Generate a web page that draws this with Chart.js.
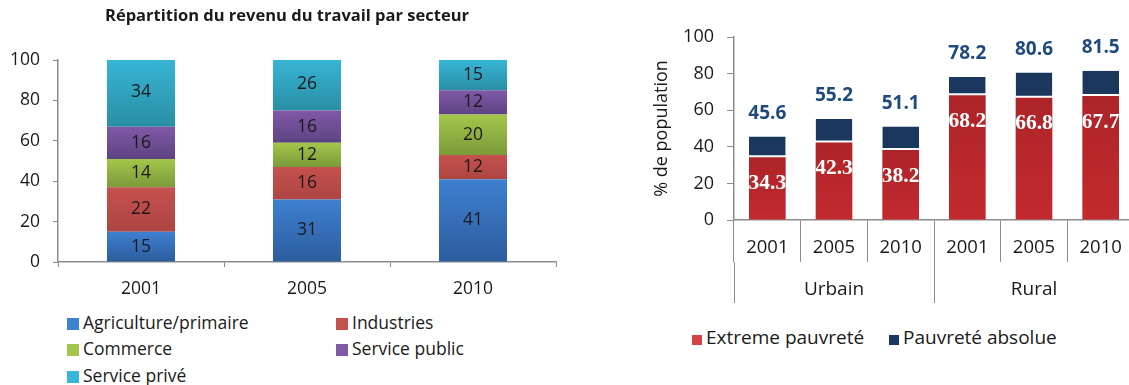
<!DOCTYPE html>
<html>
<head>
<meta charset="utf-8">
<script src="https://cdn.jsdelivr.net/npm/chart.js@4/dist/chart.umd.min.js"></script>
<style>
  html, body { margin: 0; padding: 0; background: #fff; }
  body { width: 1129px; height: 385px; overflow: hidden; position: relative; font-family: "Open Sans", sans-serif; color: #1a1a1a; }
  #revenu { position: absolute; left: 0; top: 0; }
  #pauvrete { position: absolute; left: 630px; top: 0; }
  .legend .item { position: absolute; white-space: nowrap; line-height: 22px; }
  .legend .box { display: inline-block; vertical-align: -1px; margin-right: 4px; }
  #legendRevenu { font-size: 17.5px; }
  #legendPauvrete { font-size: 19px; }
</style>
</head>
<body>
<canvas id="revenu" width="574" height="300"></canvas>
<canvas id="pauvrete" width="510" height="310"></canvas>
<div id="legendRevenu" class="legend"></div>
<div id="legendPauvrete" class="legend"></div>
<script>
"use strict";

// --- revenu du travail par secteur (%)
const years = ["2001", "2005", "2010"];
const sectors = ["Agriculture/primaire", "Industries", "Commerce", "Service public", "Service privé"];
const agriculture = [15, 31, 41];
const industries = [22, 16, 12];
const commerce = [14, 12, 20];
const servicePublic = [16, 16, 12];
const servicePrive = [34, 26, 15];
const pctTicks = [0, 20, 40, 60, 80, 100];
const revenuTitle = "Répartition du revenu du travail par secteur";

// --- pauvreté (% de population)
const zones = ["Urbain", "Rural"];
const zoneYears = ["2001", "2005", "2010", "2001", "2005", "2010"];
const extreme = [34.3, 42.3, 38.2, 68.2, 66.8, 67.7];
const totalPauvrete = [45.6, 55.2, 51.1, 78.2, 80.6, 81.5];

const sectorColors = [
  ["#3e80d1", "#2c5c9c"],
  ["#c5514e", "#ad4542"],
  ["#a4c64b", "#7b9a3a"],
  ["#8059a7", "#5d4382"],
  ["#38b6d7", "#298ea3"]
];
const redCols = ["#ad2428", "#c22a2f"];
const navy = "#1b375e";
const axisGray = "#8c8c8c";

function segmentFill(colors) {
  return ctx => {
    const chart = ctx.chart;
    if (ctx.type !== "data" || !chart.chartArea) return colors[0];
    const y = chart.scales.y;
    let base = 0;
    for (let d = 0; d < ctx.datasetIndex; d++) base += chart.data.datasets[d].data[ctx.dataIndex];
    const g = chart.ctx.createLinearGradient(0, y.getPixelForValue(base + ctx.raw), 0, y.getPixelForValue(base));
    g.addColorStop(0, colors[0]);
    g.addColorStop(1, colors[1]);
    return g;
  };
}

// numbers in the middle of each segment, title centred on the canvas
const segmentLabels = {
  id: "segmentLabels",
  afterDatasetsDraw(chart) {
    const c = chart.ctx;
    c.save();
    c.font = "17.5px 'Open Sans'";
    c.fillStyle = "#1a1a1a";
    c.textAlign = "center";
    c.textBaseline = "middle";
    chart.data.datasets.forEach((ds, i) => {
      chart.getDatasetMeta(i).data.forEach((bar, j) => {
        const mid = (bar.y + bar.base) / 2;
        c.fillText(String(ds.data[j]), bar.x, Math.max(mid, chart.chartArea.top + 12));
      });
    });
    c.font = "bold 16.5px 'Open Sans'";
    c.fillText(revenuTitle, chart.width / 2, 16);
    c.restore();
  }
};

const revenuSeries = [agriculture, industries, commerce, servicePublic, servicePrive];

new Chart(document.getElementById("revenu"), {
  type: "bar",
  data: {
    labels: years,
    datasets: revenuSeries.map((vals, i) => ({
      label: sectors[i],
      data: vals,
      backgroundColor: segmentFill(sectorColors[i]),
      borderWidth: 0,
      barPercentage: 0.41,
      categoryPercentage: 1
    }))
  },
  options: {
    responsive: false,
    animation: false,
    layout: { padding: { left: 0, right: 18, top: 60, bottom: 0 } },
    plugins: {
      legend: { display: false },
      tooltip: { enabled: false }
    },
    scales: {
      x: {
        stacked: true,
        afterFit: s => { s.height = 38; },
        grid: { offset: true, drawOnChartArea: false, tickLength: 5, color: axisGray },
        border: { color: axisGray, width: 1.5 },
        ticks: { color: "#1a1a1a", padding: 12, font: { family: "'Open Sans'", size: 17.5 } }
      },
      y: {
        stacked: true,
        min: 0,
        max: 100,
        afterFit: s => { s.width = 58; },
        afterBuildTicks: s => { s.ticks = pctTicks.map(v => ({ value: v })); },
        grid: { drawOnChartArea: false, tickLength: 5, color: axisGray },
        border: { color: axisGray, width: 1.5 },
        ticks: { color: "#1a1a1a", padding: 13, font: { family: "'Open Sans'", size: 17.5 } }
      }
    }
  },
  plugins: [segmentLabels]
});

// white bold figures inside the red part, blue totals above the bars
const pauvreteLabels = {
  id: "pauvreteLabels",
  afterDatasetsDraw(chart) {
    const c = chart.ctx;
    const red = chart.getDatasetMeta(0).data;
    const blue = chart.getDatasetMeta(1).data;
    c.save();
    c.textAlign = "center";
    c.textBaseline = "middle";
    red.forEach((bar, j) => {
      c.save();
      c.beginPath();
      c.rect(bar.x - bar.width / 2, bar.y, bar.width, bar.base - bar.y);
      c.clip();
      c.font = "bold 21.5px 'Liberation Serif'";
      c.fillStyle = "#ffffff";
      c.fillText(extreme[j].toFixed(1), bar.x, bar.y + 26);
      c.restore();
    });
    c.font = "bold 19px 'Open Sans'";
    c.fillStyle = "#1f4a7c";
    blue.forEach((bar, j) => {
      c.fillText(totalPauvrete[j].toFixed(1), bar.x, bar.y - 23);
    });
    c.restore();
  }
};

new Chart(document.getElementById("pauvrete"), {
  type: "bar",
  data: {
    labels: zoneYears,
    datasets: [
      {
        label: "Extreme pauvreté",
        data: extreme,
        backgroundColor: segmentFill(redCols),
        borderWidth: 0,
        barPercentage: 0.55,
        categoryPercentage: 1
      },
      {
        label: "Pauvreté absolue",
        data: totalPauvrete.map((t, i) => +(t - extreme[i]).toFixed(1)),
        backgroundColor: navy,
        borderColor: "#ffffff",
        borderWidth: { bottom: 2, top: 0, left: 0, right: 0 },
        borderSkipped: false,
        barPercentage: 0.55,
        categoryPercentage: 1
      }
    ]
  },
  options: {
    responsive: false,
    animation: false,
    layout: { padding: { left: 0, right: 6, top: 37, bottom: 0 } },
    plugins: { legend: { display: false }, tooltip: { enabled: false } },
    scales: {
      x: {
        stacked: true,
        afterFit: s => { s.height = 42; },
        grid: { offset: true, drawOnChartArea: false, tickLength: 42, color: axisGray },
        border: { color: axisGray, width: 1.5 },
        ticks: { color: "#1a1a1a", padding: -25, font: { family: "'Open Sans'", size: 18.5 } }
      },
      x2: {
        type: "category",
        labels: zones,
        position: "bottom",
        offset: true,
        afterFit: s => { s.height = 48; },
        grid: { offset: true, drawOnChartArea: false, tickLength: 41, color: axisGray },
        border: { display: false },
        ticks: { color: "#1a1a1a", padding: -25, font: { family: "'Open Sans'", size: 19 } }
      },
      y: {
        stacked: true,
        min: 0,
        max: 100,
        afterFit: s => { s.width = 104; },
        afterBuildTicks: s => { s.ticks = pctTicks.map(v => ({ value: v })); },
        grid: { drawOnChartArea: false, tickLength: 7, color: axisGray },
        border: { color: axisGray, width: 1.5 },
        ticks: { color: "#1a1a1a", padding: 13, font: { family: "'Open Sans'", size: 18 } },
        title: {
          display: true,
          text: "% de population",
          color: "#1a1a1a",
          font: { family: "'Open Sans'", size: 18 },
          padding: { top: 21, bottom: 0 }
        }
      }
    }
  },
  plugins: [pauvreteLabels]
});

// legends built from the series names and colours
function buildLegend(el, names, colors, slots, boxSize) {
  names.forEach((name, i) => {
    const item = document.createElement("div");
    item.className = "item";
    item.style.left = slots[i][0] + "px";
    item.style.top = slots[i][1] + "px";
    const box = document.createElement("span");
    box.className = "box";
    box.style.width = boxSize + "px";
    box.style.height = boxSize + "px";
    box.style.background = colors[i];
    item.appendChild(box);
    item.appendChild(document.createTextNode(name));
    el.appendChild(item);
  });
}

buildLegend(document.getElementById("legendRevenu"), sectors,
  sectorColors.map(c => c[0]),
  [[67, 311], [336, 311], [67, 337], [336, 337], [67, 364]], 12);
buildLegend(document.getElementById("legendPauvrete"), ["Extreme pauvreté", "Pauvreté absolue"],
  ["#d24444", navy],
  [[692, 326], [889, 326]], 10);
</script>
</body>
</html>
